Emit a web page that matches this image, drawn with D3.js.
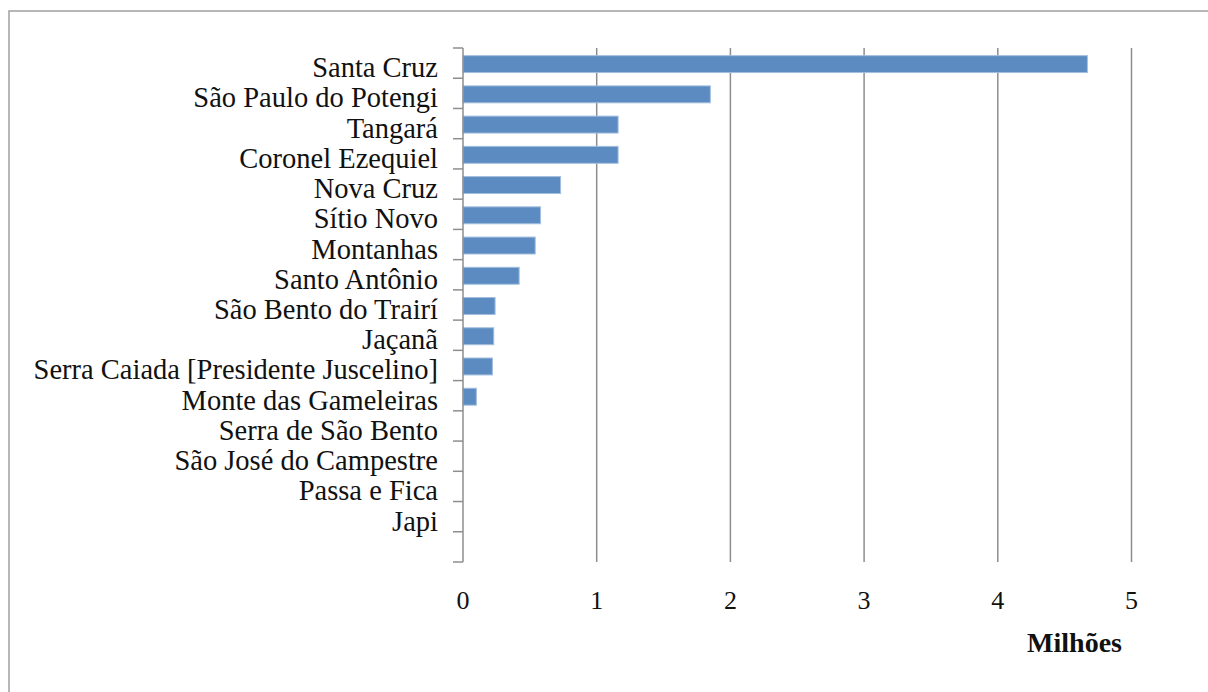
<!DOCTYPE html>
<html>
<head>
<meta charset="utf-8">
<script src="https://cdn.jsdelivr.net/npm/d3@7"></script>
<style>
  html, body { margin: 0; padding: 0; background: #fff; }
  svg { display: block; }
  text { font-family: "Liberation Serif", "Times New Roman", serif; fill: #111; }
</style>
</head>
<body>
<svg id="chart" width="1208" height="692"></svg>
<script>
// the last category is an empty slot, as in the original chart
const categories = [
  "Santa Cruz",
  "São Paulo do Potengi",
  "Tangará",
  "Coronel Ezequiel",
  "Nova Cruz",
  "Sítio Novo",
  "Montanhas",
  "Santo Antônio",
  "São Bento do Trairí",
  "Jaçanã",
  "Serra Caiada [Presidente Juscelino]",
  "Monte das Gameleiras",
  "Serra de São Bento",
  "São José do Campestre",
  "Passa e Fica",
  "Japi",
  ""
];
const values = [4.67, 1.85, 1.16, 1.16, 0.73, 0.58, 0.54, 0.42, 0.24, 0.23, 0.22, 0.10, 0, 0, 0, 0, 0];
const xTicks = [0, 1, 2, 3, 4, 5];
const xTitle = "Milhões";

const svg = d3.select("#chart");

// outer frame
svg.append("rect")
  .attr("x", 9).attr("y", 11)
  .attr("width", 1300).attr("height", 800)
  .attr("fill", "none").attr("stroke", "#a0a0a0").attr("stroke-width", 1.5);

const plotTop = 48, plotBottom = 562;
const x = d3.scaleLinear().domain([0, 5]).range([463, 1131.5]);
const y = d3.scaleBand().domain(categories.map((c, i) => i)).range([plotTop, plotBottom])
  .paddingInner(0.44).paddingOuter(0.22);
const boundary = d3.scaleLinear().domain([0, categories.length]).range([plotTop, plotBottom]);

// gridlines
svg.append("g").selectAll("line").data(xTicks.filter(d => d > 0)).join("line")
  .attr("x1", d => x(d)).attr("x2", d => x(d))
  .attr("y1", plotTop).attr("y2", plotBottom)
  .attr("stroke", "#8e8e8e").attr("stroke-width", 1.5);

// bars
svg.append("g").selectAll("rect").data(values.map((v, i) => ({i, v})).filter(d => d.v > 0)).join("rect")
  .attr("x", x(0))
  .attr("y", d => y(d.i) + 1)
  .attr("width", d => x(d.v) - x(0))
  .attr("height", y.bandwidth())
  .attr("fill", "#5b8bc0")
  .attr("stroke", "#a3bfdf").attr("stroke-width", 1);

// y axis line
svg.append("line")
  .attr("x1", x(0)).attr("x2", x(0)).attr("y1", plotTop).attr("y2", plotBottom)
  .attr("stroke", "#8e8e8e").attr("stroke-width", 1.5);

// y tick marks at category boundaries
svg.append("g").selectAll("line").data(d3.range(categories.length + 1)).join("line")
  .attr("x1", x(0) - 10).attr("x2", x(0))
  .attr("y1", d => boundary(d)).attr("y2", d => boundary(d))
  .attr("stroke", "#8e8e8e").attr("stroke-width", 1.5);

// category labels
svg.append("g").selectAll("text").data(categories).join("text")
  .attr("x", 438)
  .attr("y", (d, i) => y(i) + y.bandwidth() / 2 + 14)
  .attr("text-anchor", "end")
  .attr("font-size", 28.5)
  .text(d => d);

// x tick labels
svg.append("g").selectAll("text").data(xTicks).join("text")
  .attr("x", d => x(d))
  .attr("y", 609)
  .attr("text-anchor", "middle")
  .attr("font-size", 26)
  .text(d => d);

// axis title
svg.append("text")
  .attr("x", 1122).attr("y", 652)
  .attr("text-anchor", "end")
  .attr("font-size", 28)
  .attr("font-weight", "bold")
  .text(xTitle);
</script>
</body>
</html>
